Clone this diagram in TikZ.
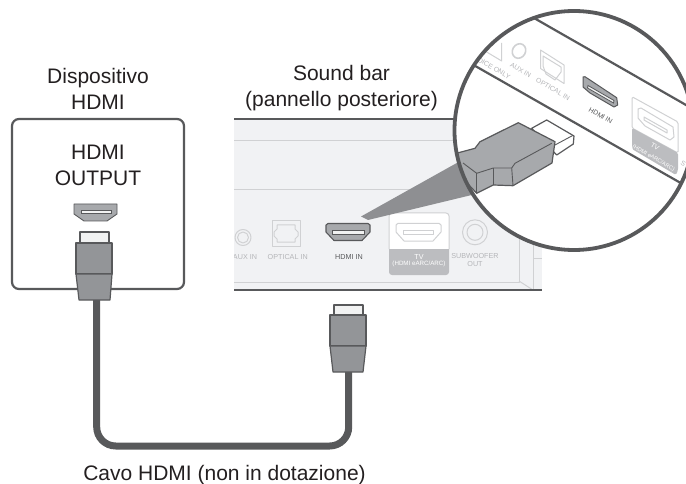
\documentclass[tikz,border=0pt]{standalone}
\usepackage{fontspec}
\setmainfont{Liberation Sans}
\definecolor{ink}{HTML}{231F20}
\definecolor{line}{HTML}{58595B}
\definecolor{plug}{HTML}{939598}
\definecolor{plugl}{HTML}{A7A9AC}
\definecolor{cone}{HTML}{8E8F92}
\definecolor{panel}{HTML}{F1F2F4}
\definecolor{pale}{HTML}{D0D1D3}
\definecolor{palet}{HTML}{B4B5B8}
\definecolor{tvg}{HTML}{BCBDC0}
\definecolor{tip}{HTML}{F1F2F2}
\tikzset{
  bigtext/.style={font=\fontsize{21}{26}\selectfont,text=ink,align=center,inner sep=0pt},
  tinytext/.style={font=\fontsize{7.2}{7.6}\selectfont,text=palet,align=center,inner sep=0pt},
  tinyrot/.style={font=\fontsize{6.8}{7.6}\selectfont,text=palet,align=center,inner sep=0pt,rotate=-30},
  tinyd/.style={tinytext,text=line},
  tinyw/.style={tinytext,text=white},
  plugline/.style={draw=line,line width=1.2pt,line join=round},
  paleline/.style={draw=pale,line width=1pt,line join=round},
  darkport/.style={draw=line,line width=1.1pt,fill=plugl,line join=round},
  cablepath/.style={draw=line,line width=7pt,rounded corners=19pt},
  barline/.style={draw=line,line width=2.2pt},
  lens/.style={draw=line,line width=3.8pt}
}
\begin{document}
\begin{tikzpicture}[x=1pt,y=-1pt]
\useasboundingbox (0,0) rectangle (686,484);
% labels
\node[bigtext] (dev) at (98,88.5) {Dispositivo\\HDMI};
\node[bigtext] (bar) at (341.5,87.6) {Sound bar\\(pannello posteriore)};
\node[bigtext,anchor=base] (cab) at (224.5,480) {Cavo HDMI (non in dotazione)};
% device box
\draw[draw=line,line width=2.2pt,rounded corners=7pt,fill=white] (12,119) rectangle (184,289);
\node[bigtext] (outp) at (98,165.5) {HDMI\\OUTPUT};
\draw[darkport,line width=.9pt] (74,204) -- (117,204) -- (117,214) -- (107,221) -- (84,221) -- (74,214) -- cycle;
\draw[fill=tip,draw=line,line width=.7pt] (81,210.5) rectangle (111,213.5);
% sound bar panel
\fill[panel] (234,119) rectangle (542,290);
\draw[paleline] (234,141) -- (460,141);
\draw[paleline] (234,190) -- (470,190);
\draw[paleline] (234,282) -- (519,282) -- (519,230);
\draw[paleline] (519,281) -- (533,290);
\draw[paleline] (533,230) -- (533,290);
\draw[paleline] (533,258) -- (542,258);
\draw[barline] (234,119) -- (460,119);
\draw[barline] (234,290) -- (542,290);
% aux
\draw[paleline] (243,237.5) circle (8pt);
\draw[paleline] (243,237.5) circle (5.5pt);
\begin{scope}
\clip (234,240) rectangle (262,270);
\node[tinytext] (auxl) at (245,256.7) {AUX IN};
\end{scope}
% optical
\draw[paleline] (272,221) rectangle (300,246);
\draw[paleline] (277,225) -- (295,225) -- (295,229) -- (298,232) -- (298,236) -- (295,239) -- (295,242) -- (277,242) -- (277,239) -- (274,236) -- (274,232) -- (277,229) -- cycle;
\node[tinytext] (optl) at (287.7,256.7) {OPTICAL IN};
% hdmi in
\draw[darkport] (326,225) -- (328,223.5) -- (368,223.5) -- (370,225) -- (370,232) -- (362,240.5) -- (334,240.5) -- (326,232) -- cycle;
\draw[fill=tip,draw=line,line width=.8pt] (332,230.7) rectangle (364,234);
\node[tinyd] (hdl) at (349,256.7) {HDMI IN};
% tv
\fill[white,rounded corners=3pt] (389,213) rectangle (449,260);
\fill[tvg,rounded corners=3pt] (389,245) rectangle (449,275);
\fill[white] (389,235) rectangle (449,249);
\draw[pale,line width=1pt,rounded corners=3pt] (389,249) -- (389,213) -- (449,213) -- (449,249);
\draw[paleline] (396,225) -- (398,223.3) -- (439,223.3) -- (441,225) -- (441,232) -- (433,241) -- (404,241) -- (396,232) -- cycle;
\draw[paleline] (403,231) rectangle (433,234);
\node[tinyw] (tvl) at (419,260.5) {TV\\[-1.2pt]\fontsize{6.2}{6.6}\selectfont(HDMI eARC/ARC)};
% subwoofer
\draw[paleline] (475,232.3) circle (12.5pt);
\draw[paleline] (475,232.3) circle (8pt);
\node[tinytext] (subl) at (475,260.3) {SUBWOOFER\\OUT};
% cone
\fill[cone] (361,216.5) -- (368,220) -- (480,193) -- (480,150) -- cycle;
% cable
\coordinate (ca) at (96.7,298);
\coordinate (cb) at (96.7,446);
\coordinate (cc) at (348.7,446);
\coordinate (cd) at (348.7,370);
\draw[cablepath] (ca) -- (cb) -- (cc) -- (cd);
% left plug
\draw[plugline,fill=tip] (80,243) -- (80,232) -- (109,232) -- (109,243);
\draw[plugline,fill=plug] (76,243) rectangle (112,274);
\draw[plugline,fill=plug] (76,274) -- (112,274) -- (110,300) -- (79,300) -- cycle;
% right plug
\draw[plugline,fill=tip] (334,315) -- (334,305) -- (363,305) -- (363,315);
\draw[plugline,fill=plug] (330,315) rectangle (366,346);
\draw[plugline,fill=plug] (330,346) -- (366,346) -- (363,372) -- (333,372) -- cycle;
% magnifier
\fill[white] (574,130.5) circle (119.5pt);
\begin{scope}
\clip (574,130.5) circle (119.5pt);
\draw[line,line width=2.2pt] (520,10) -- (700,113);
\draw[line,line width=2.2pt] (470,63) -- (700,194);
% voice only box
\draw[paleline] (501.7,43) -- (501.7,61) -- (480,48);
\node[tinyrot] (vo) at (492,67) {VOICE ONLY};
% aux
\draw[pale,line width=1.6pt,rotate around={-30:(519,51)}] (519,51) ellipse (6.5pt and 7.5pt);
\node[tinyrot] (auxm) at (520.7,70) {AUX IN};
% optical
\draw[paleline] (540.5,50) -- (564,65) -- (564,83.5) -- (540.5,68.5) -- cycle;
\draw[paleline] (543,56) -- (561,67) -- (561,72) -- (555,80) -- (546,74) -- (543,66) -- cycle;
\node[tinyrot] (optm) at (553,89) {OPTICAL IN};
% hdmi
\draw[darkport,line width=1pt] (583,77) -- (585,76.7) -- (616.7,97.7) -- (617.7,105) -- (614,107) -- (590,93) -- (583,87) -- cycle;
\draw[draw=line,fill=tip,line width=.8pt] (588,85.5) -- (614,100.5) -- (613.5,103) -- (587.5,88) -- cycle;
\node[tinyrot,text=line] (hdm) at (600.7,115.7) {HDMI IN};
% tv
\draw[fill=white,draw=pale,line width=1pt,rounded corners=1.5pt] (632,96.7) -- (678,122) -- (678,153) -- (632,128) -- cycle;
\fill[tvg,rounded corners=1.5pt] (632,128) -- (678,153) -- (678,170) -- (676,175) -- (632,149) -- cycle;
\draw[paleline] (638,109) -- (641,108) -- (673,127) -- (674,137) -- (670,140) -- (645,126) -- (638,118) -- cycle;
\draw[paleline] (644,117) -- (667,130) -- (667,133) -- (644,120) -- cycle;
\node[tinyrot,text=white] (tvm) at (655,147) {TV};
\node[tinyrot,text=white,font=\fontsize{5.6}{6}\selectfont] (tvn) at (653.5,158) {(HDMI eARC/ARC)};
\node[tinyrot,anchor=west] (subm) at (681,162) {S};
% big plug
\draw[plugline,fill=white] (531.7,128.3) -- (546.7,120) -- (574,136) -- (573.3,144) -- (556.7,155) -- cycle;
\draw[plugline,line width=.9pt] (555,145) -- (572.7,135.5);
\draw[plugline,fill=plugl] (518.3,122.7) -- (555,141.7) -- (552,163) -- (513,185.7) -- (493.3,185) -- (476.7,193.3) -- (455,170) -- (450,155) -- (475,148.3) -- (480,141.7) -- cycle;
\draw[plugline,line width=.9pt] (551.7,143.3) -- (515,163.3) -- (511.7,168) -- (493.3,168) -- (476.7,173.3) -- (463,163);
\draw[plugline,line width=.9pt] (476.7,173.3) -- (476.7,193.3);
\draw[plugline,line width=.9pt] (493.3,168) -- (493.3,185);
\draw[plugline,line width=.9pt] (511.7,168) -- (513,185.7);
\end{scope}
\draw[lens] (574,130.5) circle (119.5pt);
\end{tikzpicture}
\end{document}
